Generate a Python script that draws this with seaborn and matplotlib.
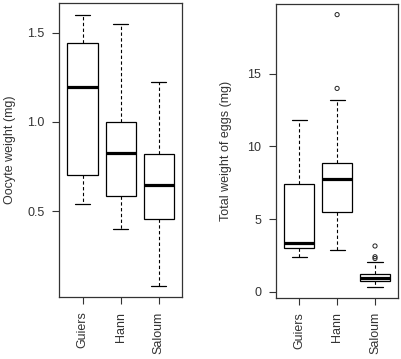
import numpy as np
import pandas as pd
import matplotlib
matplotlib.use("Agg")
import matplotlib.pyplot as plt
import seaborn as sns

# ---- data ----
sites = ["Guiers", "Hann", "Saloum"]

# Oocyte weight (mg): five-number summaries per site
oocyte_low = [0.54, 0.40, 0.083]
oocyte_q1 = [0.706, 0.588, 0.46]
oocyte_med = [1.195, 0.826, 0.648]
oocyte_q3 = [1.442, 1.00, 0.822]
oocyte_high = [1.60, 1.549, 1.223]

# Total weight of eggs (mg): five-number summaries per site
eggs_low = [2.43, 2.89, 0.35]
eggs_q1 = [3.03, 5.48, 0.78]
eggs_med = [3.35, 7.78, 0.98]
eggs_q3 = [7.43, 8.85, 1.22]
eggs_high = [11.85, 13.16, 2.03]

# Outliers (total weight of eggs)
eggs_out_site = ["Hann", "Hann", "Saloum", "Saloum", "Saloum"]
eggs_out_val = [19.06, 13.99, 3.16, 2.42, 2.30]

oocyte_ticks = [0.5, 1.0, 1.5]
eggs_ticks = [0, 5, 10, 15]


def summary_frame(low, q1, med, q3, high):
    rows = []
    for i, s in enumerate(sites):
        for v in (low[i], q1[i], med[i], q3[i], high[i]):
            rows.append({"site": s, "value": v})
    return pd.DataFrame(rows)


df_oocyte = summary_frame(oocyte_low, oocyte_q1, oocyte_med, oocyte_q3, oocyte_high)
df_eggs = summary_frame(eggs_low, eggs_q1, eggs_med, eggs_q3, eggs_high)
df_out = pd.DataFrame({"site": eggs_out_site, "value": eggs_out_val})

# ---- style ----
sns.set_theme(style="white")
plt.rcParams["font.family"] = ["Liberation Sans", "DejaVu Sans"]
plt.rcParams["font.size"] = 9

TXT = "#333333"
fig = plt.figure(figsize=(4.02, 3.59), dpi=100)
ax1 = fig.add_axes([59 / 402, 1 - 297 / 359, 123.5 / 402, 294 / 359])
ax2 = fig.add_axes([275.7 / 402, 1 - 297.5 / 359, 122.8 / 402, 293.5 / 359])

box_kws = dict(
    order=sites, whis=(0, 100), width=0.8, color="white", linecolor="black",
    linewidth=0.9, showfliers=False,
    medianprops={"linewidth": 2.3, "color": "black"},
    whiskerprops={"linestyle": (0, (3.0, 2.2)), "linewidth": 0.8},
    capprops={"linewidth": 0.9},
)

sns.boxplot(data=df_oocyte, x="site", y="value", ax=ax1, **box_kws)
sns.boxplot(data=df_eggs, x="site", y="value", ax=ax2, **box_kws)

n_before = len(ax2.collections)
sns.stripplot(data=df_out, x="site", y="value", order=sites, ax=ax2,
              jitter=False, size=3.0, color="black", linewidth=0.7)
for coll in ax2.collections[n_before:]:
    coll.set_facecolor("none")
    coll.set_edgecolor("#222222")
    coll.set_linewidth(0.7)

for ax, ylab, ticks, ylim, lx in (
    (ax1, "Oocyte weight (mg)", oocyte_ticks, (0.022, 1.665), -0.345),
    (ax2, "Total weight of eggs (mg)", eggs_ticks, (-0.38, 19.79), -0.355),
):
    ax.set_xlim(-0.62, 2.62)
    ax.set_ylim(*ylim)
    ax.set_yticks(ticks)
    ax.set_xlabel("")
    ax.set_ylabel(ylab, color=TXT, fontsize=9)
    ax.yaxis.set_label_coords(lx, 0.5)
    ax.set_xticks(range(len(sites)))
    ax.set_xticklabels(sites, rotation=90)
    for sp in ax.spines.values():
        sp.set_visible(True)
        sp.set_color("#333333")
        sp.set_linewidth(0.9)
    ax.tick_params(axis="both", which="major", direction="out", length=5,
                   width=0.8, color="#333333", labelcolor=TXT, labelsize=9,
                   bottom=True, left=True)
    ax.tick_params(axis="y", pad=5.5)
    ax.tick_params(axis="x", pad=5.5)
    ax.set_facecolor("white")

fig.savefig("out.png", dpi=100, facecolor="white")
